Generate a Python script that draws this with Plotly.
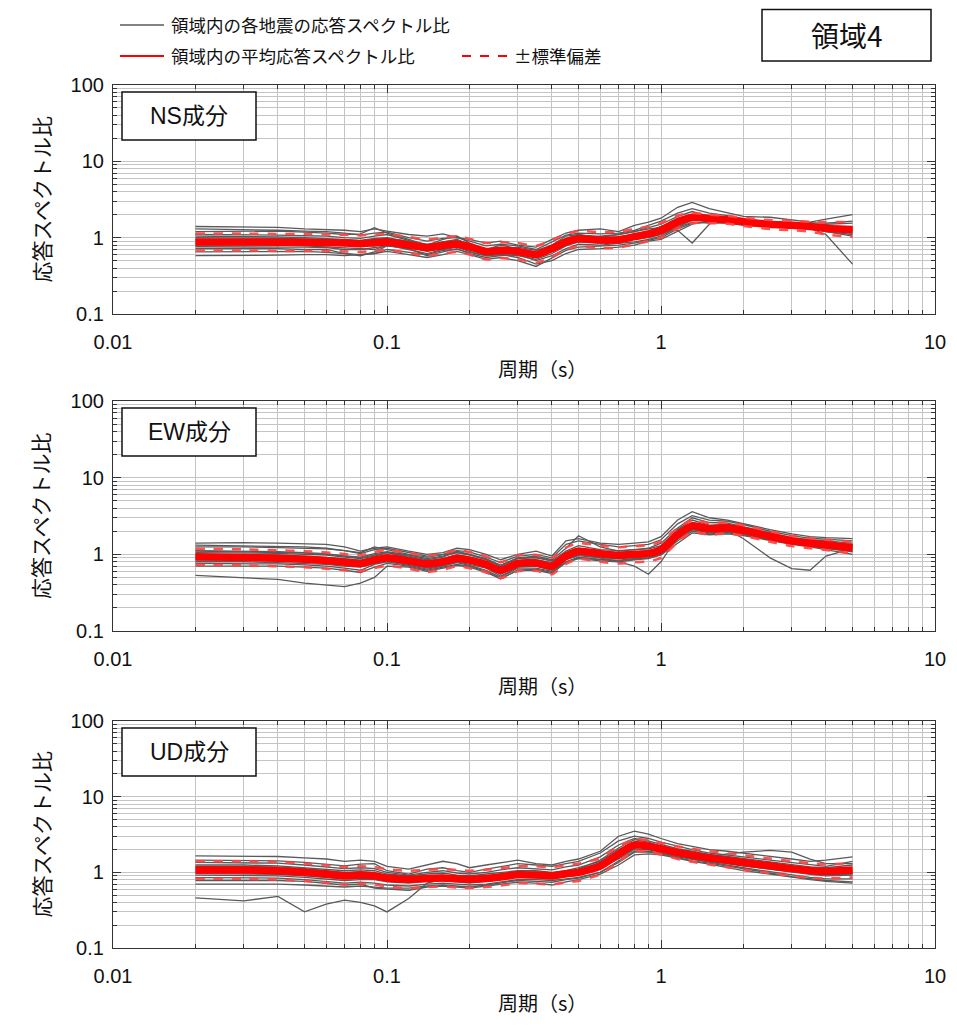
import plotly.graph_objects as go

# ---------------- data ----------------
periods = [0.02, 0.03, 0.04, 0.05, 0.06, 0.07, 0.08, 0.09, 0.1, 0.12, 0.14, 0.16, 0.18, 0.2,
           0.23, 0.26, 0.3, 0.35, 0.4, 0.45, 0.5, 0.6, 0.7, 0.8, 0.9, 1.0, 1.15, 1.3, 1.5,
           1.75, 2.0, 2.5, 3.0, 3.5, 4.0, 5.0]

ns_mean = [0.88, 0.88, 0.87, 0.87, 0.86, 0.85, 0.83, 0.86, 0.88, 0.80, 0.74, 0.79, 0.82, 0.76,
           0.66, 0.68, 0.66, 0.60, 0.72, 0.88, 0.97, 0.93, 0.94, 1.03, 1.12, 1.25, 1.60, 1.85,
           1.78, 1.72, 1.62, 1.50, 1.45, 1.40, 1.33, 1.27]
ns_upper = [1.13, 1.13, 1.12, 1.12, 1.10, 1.09, 1.07, 1.10, 1.12, 1.02, 0.95, 1.00, 1.04, 0.97,
            0.85, 0.87, 0.85, 0.78, 0.93, 1.12, 1.22, 1.18, 1.20, 1.30, 1.40, 1.55, 1.95, 2.10,
            2.00, 1.92, 1.82, 1.70, 1.66, 1.62, 1.60, 1.60]
ns_lower = [0.68, 0.68, 0.67, 0.67, 0.67, 0.66, 0.65, 0.67, 0.69, 0.63, 0.58, 0.62, 0.65, 0.60,
            0.52, 0.54, 0.52, 0.47, 0.56, 0.70, 0.77, 0.73, 0.74, 0.82, 0.90, 1.00, 1.32, 1.55,
            1.55, 1.52, 1.42, 1.30, 1.25, 1.20, 1.10, 1.02]
ns_quakes = [
    [1.40, 1.38, 1.36, 1.30, 1.28, 1.25, 1.20, 1.30, 1.22, 1.10, 1.05, 1.12, 1.00, 0.95, 0.85, 0.90, 0.80, 0.75, 0.95, 1.15, 1.25, 1.30, 1.20, 1.45, 1.60, 1.80, 2.50, 2.90, 2.40, 2.10, 1.90, 1.85, 1.70, 1.60, 1.75, 2.00],
    [1.20, 1.20, 1.22, 1.18, 1.15, 1.10, 1.12, 1.35, 1.15, 0.95, 0.80, 0.95, 1.05, 0.85, 0.70, 0.80, 0.72, 0.62, 0.80, 1.05, 1.10, 1.00, 1.10, 1.20, 1.35, 1.50, 1.90, 2.20, 1.90, 1.80, 1.70, 1.55, 1.50, 1.45, 1.50, 1.55],
    [1.05, 1.04, 1.02, 1.00, 0.98, 0.95, 0.92, 0.98, 1.00, 0.88, 0.80, 0.88, 0.92, 0.80, 0.68, 0.74, 0.70, 0.62, 0.70, 0.85, 1.00, 0.95, 0.98, 1.05, 1.10, 1.30, 1.70, 2.00, 1.85, 1.75, 1.65, 1.50, 1.48, 1.42, 1.35, 1.30],
    [0.95, 0.95, 0.94, 0.92, 0.90, 0.92, 0.86, 0.84, 0.92, 0.85, 0.70, 0.82, 0.88, 0.74, 0.62, 0.70, 0.64, 0.55, 0.72, 0.92, 1.05, 0.90, 0.88, 1.00, 1.20, 1.40, 1.65, 1.75, 1.70, 1.75, 1.60, 1.52, 1.45, 1.38, 1.30, 1.25],
    [0.88, 0.88, 0.87, 0.85, 0.85, 0.80, 0.78, 0.82, 0.85, 0.78, 0.72, 0.76, 0.78, 0.72, 0.60, 0.64, 0.62, 0.58, 0.66, 0.80, 0.90, 0.92, 0.96, 1.00, 1.05, 1.15, 1.50, 1.80, 1.75, 1.65, 1.55, 1.45, 1.42, 1.40, 1.30, 1.20],
    [0.80, 0.80, 0.80, 0.78, 0.76, 0.75, 0.72, 0.70, 0.80, 0.70, 0.62, 0.70, 0.75, 0.66, 0.58, 0.60, 0.58, 0.52, 0.62, 0.78, 0.88, 0.85, 0.90, 0.95, 1.00, 1.10, 1.40, 1.70, 1.65, 1.60, 1.50, 1.42, 1.38, 1.35, 1.25, 1.15],
    [0.72, 0.72, 0.72, 0.70, 0.70, 0.62, 0.58, 0.65, 0.78, 0.72, 0.58, 0.65, 0.72, 0.62, 0.55, 0.58, 0.60, 0.50, 0.58, 0.72, 0.82, 0.80, 0.85, 0.88, 0.95, 1.05, 1.35, 1.60, 1.55, 1.55, 1.45, 1.38, 1.32, 1.30, 1.20, 1.10],
    [0.65, 0.65, 0.66, 0.66, 0.64, 0.62, 0.60, 0.62, 0.66, 0.60, 0.55, 0.60, 0.66, 0.60, 0.52, 0.55, 0.50, 0.42, 0.55, 0.68, 0.75, 0.78, 0.80, 0.85, 0.92, 1.00, 1.30, 1.55, 1.60, 1.60, 1.50, 1.40, 1.35, 1.30, 1.20, 1.05],
    [0.58, 0.58, 0.59, 0.60, 0.60, 0.58, 0.60, 0.62, 0.70, 0.65, 0.60, 0.68, 0.70, 0.64, 0.58, 0.60, 0.55, 0.45, 0.50, 0.62, 0.70, 0.72, 0.75, 0.80, 0.90, 0.95, 1.20, 1.50, 1.65, 1.70, 1.55, 1.45, 1.40, 1.32, 1.10, 0.45],
    [1.10, 1.10, 1.08, 1.06, 1.05, 1.00, 0.98, 1.05, 1.10, 0.92, 0.76, 0.88, 0.95, 0.82, 0.70, 0.75, 0.72, 0.65, 0.78, 0.95, 1.05, 1.05, 1.10, 1.20, 1.30, 1.35, 1.25, 0.85, 1.50, 1.90, 1.70, 1.55, 1.50, 1.45, 1.42, 1.40],
    [1.00, 1.00, 0.98, 0.96, 0.95, 0.90, 0.88, 0.95, 0.98, 0.90, 0.82, 0.85, 0.90, 0.80, 0.72, 0.70, 0.75, 0.68, 0.80, 0.98, 1.08, 1.02, 1.00, 1.10, 1.22, 1.40, 1.80, 2.00, 1.95, 1.80, 1.70, 1.58, 1.52, 1.50, 1.40, 1.35],
    [0.92, 0.92, 0.90, 0.90, 0.88, 0.90, 0.82, 0.88, 0.95, 0.82, 0.76, 0.80, 0.85, 0.78, 0.68, 0.72, 0.70, 0.62, 0.75, 0.90, 1.00, 0.98, 0.95, 1.08, 1.15, 1.25, 1.65, 1.95, 1.85, 1.70, 1.62, 1.52, 1.48, 1.42, 1.38, 1.30],
    [0.84, 0.84, 0.82, 0.82, 0.80, 0.82, 0.80, 0.78, 0.82, 0.75, 0.68, 0.75, 0.80, 0.75, 0.65, 0.66, 0.62, 0.58, 0.70, 0.85, 0.95, 0.88, 0.92, 1.00, 1.10, 1.20, 1.55, 1.90, 1.80, 1.72, 1.60, 1.48, 1.42, 1.38, 1.35, 1.25],
    [0.76, 0.76, 0.76, 0.75, 0.74, 0.70, 0.70, 0.75, 0.78, 0.76, 0.66, 0.72, 0.76, 0.70, 0.62, 0.62, 0.62, 0.55, 0.66, 0.82, 0.92, 0.86, 0.88, 0.98, 1.02, 1.12, 1.45, 1.75, 1.70, 1.65, 1.58, 1.45, 1.40, 1.36, 1.28, 1.18],
    [1.30, 1.28, 1.25, 1.22, 1.20, 1.15, 1.08, 1.15, 1.18, 1.00, 0.90, 0.98, 1.00, 0.90, 0.78, 0.82, 0.78, 0.70, 0.88, 1.08, 1.15, 1.12, 1.15, 1.25, 1.45, 1.65, 2.10, 2.40, 2.10, 1.95, 1.75, 1.62, 1.58, 1.55, 1.55, 1.65],
]

ew_mean = [0.93, 0.91, 0.89, 0.86, 0.83, 0.79, 0.76, 0.84, 0.90, 0.82, 0.75, 0.80, 0.89, 0.84,
           0.74, 0.62, 0.76, 0.77, 0.70, 0.95, 1.10, 1.02, 0.97, 1.00, 1.03, 1.15, 1.80, 2.35,
           2.15, 2.22, 2.05, 1.72, 1.50, 1.40, 1.33, 1.22]
ew_upper = [1.18, 1.16, 1.13, 1.10, 1.06, 1.01, 0.97, 1.07, 1.14, 1.04, 0.96, 1.02, 1.13, 1.07,
            0.94, 0.79, 0.97, 0.98, 0.90, 1.22, 1.40, 1.30, 1.24, 1.28, 1.32, 1.47, 2.20, 2.80,
            2.55, 2.60, 2.40, 2.00, 1.75, 1.62, 1.55, 1.45]
ew_lower = [0.73, 0.72, 0.70, 0.68, 0.65, 0.62, 0.60, 0.66, 0.71, 0.65, 0.59, 0.63, 0.70, 0.66,
            0.58, 0.49, 0.60, 0.61, 0.55, 0.75, 0.87, 0.80, 0.76, 0.79, 0.81, 0.90, 1.45, 1.95,
            1.80, 1.88, 1.74, 1.46, 1.28, 1.20, 1.14, 1.02]
ew_quakes = [
    [1.40, 1.42, 1.40, 1.38, 1.35, 1.25, 1.10, 1.20, 1.25, 1.10, 1.00, 1.05, 1.20, 1.15, 1.00, 0.85, 1.00, 1.10, 0.95, 1.50, 1.60, 1.40, 1.35, 1.40, 1.45, 1.70, 2.80, 3.60, 3.00, 2.80, 2.50, 2.10, 1.85, 1.70, 1.65, 1.60],
    [1.25, 1.25, 1.22, 1.20, 1.18, 1.12, 1.05, 1.25, 1.15, 1.00, 0.92, 0.98, 1.05, 1.00, 0.88, 0.72, 0.90, 0.95, 0.85, 1.20, 1.75, 1.25, 1.10, 1.15, 1.20, 1.40, 2.20, 3.00, 2.60, 2.55, 2.30, 1.90, 1.65, 1.55, 1.50, 1.40],
    [1.05, 1.05, 1.03, 1.00, 0.98, 0.92, 0.88, 0.95, 1.05, 0.92, 0.82, 0.88, 0.98, 0.92, 0.80, 0.68, 0.82, 0.85, 0.78, 1.05, 1.20, 1.10, 1.05, 1.08, 1.10, 1.25, 1.95, 2.60, 2.30, 2.40, 2.20, 1.80, 1.55, 1.45, 1.40, 1.30],
    [0.98, 0.97, 0.95, 0.92, 0.90, 0.85, 0.80, 0.90, 0.98, 0.85, 0.78, 0.84, 0.92, 0.86, 0.75, 0.62, 0.78, 0.78, 0.72, 0.95, 1.10, 1.05, 1.00, 1.02, 1.05, 1.20, 1.85, 2.40, 2.20, 2.25, 2.10, 1.75, 1.50, 1.42, 1.35, 1.25],
    [0.90, 0.90, 0.88, 0.86, 0.82, 0.78, 0.75, 0.82, 0.88, 0.80, 0.72, 0.78, 0.86, 0.82, 0.72, 0.58, 0.74, 0.74, 0.68, 0.92, 1.05, 0.98, 0.95, 0.98, 1.00, 1.10, 1.70, 2.20, 2.05, 2.10, 2.00, 1.70, 1.48, 1.38, 1.30, 1.20],
    [0.84, 0.84, 0.82, 0.80, 0.76, 0.72, 0.70, 0.78, 0.84, 0.76, 0.68, 0.74, 0.82, 0.78, 0.68, 0.55, 0.70, 0.70, 0.64, 0.85, 0.98, 0.92, 0.90, 0.92, 0.95, 1.05, 1.60, 2.10, 1.95, 2.00, 1.90, 1.62, 1.42, 1.32, 1.25, 1.15],
    [0.76, 0.76, 0.75, 0.73, 0.70, 0.66, 0.62, 0.74, 0.80, 0.72, 0.64, 0.70, 0.78, 0.72, 0.62, 0.50, 0.66, 0.66, 0.60, 0.80, 0.92, 0.86, 0.84, 0.88, 0.90, 1.00, 1.50, 2.00, 1.85, 1.90, 1.80, 1.55, 1.38, 1.28, 1.20, 1.08],
    [0.70, 0.70, 0.70, 0.68, 0.66, 0.62, 0.58, 0.68, 0.76, 0.70, 0.62, 0.68, 0.74, 0.70, 0.60, 0.48, 0.62, 0.64, 0.58, 0.78, 0.88, 0.82, 0.80, 0.85, 0.88, 0.98, 1.40, 1.90, 1.80, 1.85, 1.75, 1.50, 1.35, 1.25, 1.15, 1.00],
    [0.53, 0.50, 0.47, 0.42, 0.40, 0.38, 0.42, 0.50, 0.70, 0.68, 0.60, 0.66, 0.72, 0.68, 0.58, 0.48, 0.62, 0.62, 0.56, 0.80, 0.90, 0.85, 0.82, 0.86, 0.90, 1.00, 1.60, 2.10, 1.90, 1.95, 1.85, 1.55, 1.40, 1.30, 1.20, 1.10],
    [1.12, 1.10, 1.08, 1.05, 1.02, 0.95, 0.90, 0.98, 1.05, 0.95, 0.85, 0.92, 1.10, 1.00, 0.85, 0.70, 0.88, 0.90, 0.82, 1.00, 1.05, 0.90, 0.80, 0.70, 0.55, 0.80, 1.70, 2.50, 2.30, 2.30, 2.10, 1.75, 1.50, 1.45, 1.40, 1.30],
    [1.00, 1.00, 0.98, 0.95, 0.92, 0.88, 0.84, 0.92, 0.95, 0.88, 0.80, 0.86, 0.95, 0.90, 0.78, 0.65, 0.80, 0.82, 0.75, 0.98, 1.15, 1.05, 1.00, 1.02, 1.05, 1.15, 1.90, 2.50, 2.20, 2.10, 1.60, 0.90, 0.65, 0.62, 0.95, 1.20],
    [1.10, 1.08, 1.06, 1.04, 1.00, 0.96, 0.92, 1.02, 1.08, 0.98, 0.88, 0.95, 1.05, 0.98, 0.85, 0.72, 0.90, 0.92, 0.82, 1.10, 1.30, 1.15, 1.12, 1.15, 1.18, 1.30, 2.10, 2.80, 2.40, 2.45, 2.25, 1.85, 1.60, 1.50, 1.45, 1.35],
    [0.94, 0.93, 0.92, 0.90, 0.86, 0.82, 0.80, 0.86, 0.92, 0.84, 0.76, 0.80, 0.90, 0.86, 0.76, 0.64, 0.78, 0.80, 0.72, 0.98, 1.12, 1.02, 0.98, 1.00, 1.05, 1.12, 1.80, 2.30, 2.10, 2.20, 2.05, 1.72, 1.50, 1.40, 1.35, 1.25],
    [0.88, 0.87, 0.86, 0.84, 0.80, 0.76, 0.74, 0.82, 0.86, 0.78, 0.70, 0.76, 0.84, 0.80, 0.70, 0.58, 0.72, 0.74, 0.66, 0.90, 1.02, 0.95, 0.92, 0.95, 0.98, 1.08, 1.70, 2.25, 2.10, 2.15, 1.98, 1.66, 1.45, 1.36, 1.28, 1.18],
    [0.80, 0.80, 0.78, 0.76, 0.74, 0.70, 0.68, 0.76, 0.82, 0.74, 0.66, 0.72, 0.80, 0.74, 0.66, 0.52, 0.68, 0.70, 0.62, 0.85, 0.96, 0.90, 0.88, 0.90, 0.94, 1.02, 1.60, 2.15, 2.00, 2.05, 1.92, 1.60, 1.40, 1.32, 1.22, 1.10],
    [1.32, 1.30, 1.28, 1.25, 1.20, 1.12, 1.02, 1.15, 1.20, 1.05, 0.95, 1.00, 1.12, 1.08, 0.92, 0.78, 0.95, 1.00, 0.90, 1.35, 1.50, 1.35, 1.25, 1.30, 1.35, 1.55, 2.50, 3.20, 2.80, 2.70, 2.45, 2.00, 1.75, 1.62, 1.58, 1.50],
]

ud_mean = [1.07, 1.07, 1.05, 1.00, 0.95, 0.90, 0.92, 0.90, 0.84, 0.81, 0.83, 0.84, 0.82, 0.81,
           0.83, 0.87, 0.93, 0.92, 0.90, 0.96, 1.00, 1.21, 1.75, 2.30, 2.22, 2.05, 1.82, 1.68,
           1.55, 1.44, 1.35, 1.22, 1.12, 1.06, 1.03, 1.07]
ud_upper = [1.40, 1.40, 1.37, 1.30, 1.24, 1.17, 1.20, 1.17, 1.10, 1.05, 1.08, 1.10, 1.07, 1.05,
            1.08, 1.13, 1.20, 1.20, 1.17, 1.25, 1.30, 1.55, 2.20, 2.75, 2.65, 2.45, 2.20, 2.05,
            1.90, 1.78, 1.68, 1.52, 1.40, 1.32, 1.28, 1.32]
ud_lower = [0.82, 0.82, 0.80, 0.77, 0.73, 0.69, 0.71, 0.69, 0.65, 0.62, 0.64, 0.65, 0.63, 0.62,
            0.64, 0.67, 0.72, 0.71, 0.69, 0.74, 0.77, 0.94, 1.38, 1.92, 1.86, 1.72, 1.50, 1.38,
            1.27, 1.17, 1.08, 0.98, 0.90, 0.85, 0.83, 0.86]
ud_quakes = [
    [1.65, 1.65, 1.62, 1.55, 1.50, 1.40, 1.45, 1.40, 1.20, 1.10, 1.25, 1.40, 1.30, 1.15, 1.25, 1.35, 1.45, 1.30, 1.25, 1.40, 1.50, 1.90, 3.00, 3.50, 3.20, 2.80, 2.40, 2.20, 2.00, 1.90, 1.80, 1.65, 1.50, 1.40, 1.45, 1.60],
    [1.45, 1.45, 1.42, 1.35, 1.28, 1.22, 1.28, 1.30, 1.05, 0.95, 1.10, 1.15, 1.05, 1.00, 1.10, 1.20, 1.30, 1.25, 1.20, 1.30, 1.40, 1.80, 2.60, 3.00, 2.80, 2.50, 2.20, 2.00, 1.80, 1.70, 1.60, 1.45, 1.35, 1.25, 1.20, 1.40],
    [1.25, 1.25, 1.22, 1.15, 1.10, 1.05, 1.08, 1.05, 0.95, 0.90, 0.95, 0.98, 0.92, 0.90, 0.95, 1.00, 1.05, 1.05, 1.00, 1.05, 1.15, 1.40, 2.00, 2.50, 2.40, 2.20, 1.95, 1.80, 1.65, 1.55, 1.45, 1.30, 1.20, 1.12, 1.10, 1.15],
    [1.10, 1.10, 1.08, 1.04, 1.00, 0.95, 0.98, 0.95, 0.88, 0.82, 0.86, 0.90, 0.85, 0.84, 0.88, 0.92, 1.00, 0.95, 0.92, 1.00, 1.05, 1.30, 1.80, 2.40, 2.30, 2.10, 1.85, 1.70, 1.58, 1.45, 1.35, 1.22, 1.12, 1.06, 1.02, 1.05],
    [1.00, 1.00, 0.98, 0.94, 0.90, 0.85, 0.88, 0.86, 0.80, 0.78, 0.80, 0.82, 0.78, 0.78, 0.80, 0.86, 0.92, 0.90, 0.88, 0.92, 0.98, 1.20, 1.65, 2.20, 2.15, 2.00, 1.75, 1.62, 1.50, 1.40, 1.30, 1.18, 1.08, 1.00, 0.96, 1.00],
    [0.92, 0.92, 0.90, 0.86, 0.82, 0.78, 0.80, 0.80, 0.75, 0.72, 0.76, 0.78, 0.75, 0.72, 0.76, 0.80, 0.88, 0.85, 0.82, 0.88, 0.92, 1.10, 1.55, 2.05, 2.00, 1.90, 1.68, 1.55, 1.42, 1.32, 1.22, 1.10, 1.00, 0.94, 0.90, 0.92],
    [0.85, 0.85, 0.84, 0.80, 0.76, 0.72, 0.74, 0.72, 0.68, 0.66, 0.70, 0.72, 0.70, 0.68, 0.70, 0.75, 0.80, 0.80, 0.78, 0.82, 0.86, 1.00, 1.40, 1.90, 1.90, 1.80, 1.60, 1.48, 1.35, 1.25, 1.15, 1.02, 0.92, 0.86, 0.82, 0.82],
    [0.78, 0.78, 0.78, 0.76, 0.72, 0.68, 0.70, 0.62, 0.60, 0.58, 0.64, 0.66, 0.64, 0.62, 0.66, 0.70, 0.74, 0.72, 0.68, 0.75, 0.80, 0.95, 1.25, 1.70, 1.75, 1.70, 1.52, 1.40, 1.28, 1.15, 1.05, 0.95, 0.86, 0.80, 0.76, 0.72],
    [0.46, 0.42, 0.48, 0.30, 0.38, 0.43, 0.40, 0.36, 0.30, 0.45, 0.72, 0.80, 0.78, 0.75, 0.78, 0.82, 0.88, 0.86, 0.84, 0.90, 0.95, 1.15, 1.50, 2.00, 2.00, 1.85, 1.65, 1.50, 1.40, 1.30, 1.20, 1.10, 1.02, 0.96, 0.92, 0.95],
    [1.20, 1.20, 1.18, 1.12, 1.05, 1.00, 1.02, 0.98, 0.90, 0.86, 0.90, 0.92, 0.88, 0.86, 0.90, 0.95, 1.02, 1.00, 0.96, 1.02, 1.10, 1.45, 2.10, 2.70, 2.50, 2.20, 1.90, 1.75, 1.62, 1.75, 1.85, 1.95, 1.85, 1.50, 1.30, 1.30],
    [1.35, 1.35, 1.32, 1.25, 1.18, 1.12, 1.15, 1.12, 1.00, 0.92, 1.00, 1.05, 0.98, 0.95, 1.00, 1.08, 1.15, 1.12, 1.08, 1.18, 1.25, 1.60, 2.30, 2.80, 2.60, 2.35, 2.05, 1.90, 1.72, 1.62, 1.52, 1.38, 1.28, 1.18, 1.15, 1.25],
    [1.15, 1.15, 1.12, 1.08, 1.02, 0.98, 1.00, 0.96, 0.90, 0.85, 0.88, 0.90, 0.86, 0.86, 0.88, 0.94, 1.00, 0.98, 0.95, 1.00, 1.08, 1.35, 1.90, 2.45, 2.35, 2.15, 1.88, 1.72, 1.60, 1.48, 1.38, 1.25, 1.15, 1.08, 1.05, 1.10],
    [1.04, 1.04, 1.02, 0.98, 0.94, 0.90, 0.92, 0.90, 0.84, 0.80, 0.84, 0.86, 0.82, 0.80, 0.84, 0.88, 0.95, 0.92, 0.90, 0.96, 1.02, 1.25, 1.75, 2.30, 2.25, 2.05, 1.80, 1.65, 1.52, 1.42, 1.32, 1.20, 1.10, 1.02, 0.98, 1.02],
    [0.96, 0.96, 0.94, 0.90, 0.86, 0.82, 0.84, 0.82, 0.78, 0.75, 0.78, 0.80, 0.76, 0.75, 0.78, 0.82, 0.90, 0.88, 0.85, 0.90, 0.95, 1.15, 1.60, 2.15, 2.10, 1.95, 1.72, 1.58, 1.45, 1.35, 1.25, 1.14, 1.04, 0.97, 0.94, 0.96],
    [0.70, 0.70, 0.70, 0.68, 0.66, 0.64, 0.66, 0.64, 0.62, 0.62, 0.66, 0.68, 0.66, 0.64, 0.68, 0.72, 0.78, 0.76, 0.74, 0.80, 0.84, 1.00, 1.35, 1.85, 1.85, 1.75, 1.55, 1.42, 1.32, 1.20, 1.10, 0.98, 0.88, 0.82, 0.78, 0.75],
]

panel_names = ["NS成分", "EW成分", "UD成分"]
x_tick_vals = [0.01, 0.1, 1, 10]
x_tick_text = ["0.01", "0.1", "1", "10"]
y_tick_vals = [0.1, 1, 10, 100]
y_tick_text = ["0.1", "1", "10", "100"]
legend_texts = ["領域内の各地震の応答スペクトル比", "領域内の平均応答スペクトル比", "±標準偏差"]
region_title = "領域4"
x_title = "周期（s）"
y_title = "応答スペクトル比"

# ---------------- layout helpers ----------------
# the page body has an 8 px margin, so the figure is drawn 8 px in from the window edge
OFF = 8
W, H = 957 - 2 * OFF, 1031 - 2 * OFF
# plot-area edges in window pixels
PL, PR, PT, PB = 113, 935, 85, 948
ML, MR, MT, MB = PL - OFF, W - (PR - OFF), PT - OFF, H - (PB - OFF)
PW, PH = PR - PL, PB - PT
panel_px = [(85, 314), (401, 631), (721, 948)]


def px(x):
    return (x - PL) / PW


def py(y):
    return 1 - (y - PT) / PH


x_minor = [k * 10.0 ** e for e in (-2, -1, 0) for k in range(2, 10)]
y_minor = [k * 10.0 ** e for e in (-1, 0, 1) for k in range(2, 10)]

GRID = "#c4c4c4"
AX = "#333333"
NUMFONT = "Liberation Sans, Arial, Noto Sans CJK JP"
JPFONT = "Noto Sans CJK JP, Liberation Sans"

fig = go.Figure()
datasets = [
    (ns_quakes, ns_mean, ns_upper, ns_lower),
    (ew_quakes, ew_mean, ew_upper, ew_lower),
    (ud_quakes, ud_mean, ud_upper, ud_lower),
]

shapes = []
annotations = []
for i, (quakes, mean, upper, lower) in enumerate(datasets):
    xa = "x" if i == 0 else f"x{i+1}"
    ya = "y" if i == 0 else f"y{i+1}"
    for q in quakes:
        fig.add_trace(go.Scatter(x=periods, y=q, mode="lines", xaxis=xa, yaxis=ya,
                                 line=dict(color="#5a5a5a", width=1.3), showlegend=False,
                                 hoverinfo="skip"))
    fig.add_trace(go.Scatter(x=periods, y=mean, mode="lines", xaxis=xa, yaxis=ya,
                             line=dict(color="#ff0000", width=7.5, shape="spline", smoothing=0.6),
                             showlegend=False))
    for band in (upper, lower):
        fig.add_trace(go.Scatter(x=periods, y=band, mode="lines", xaxis=xa, yaxis=ya,
                                 line=dict(color="rgba(255,70,70,0.95)", width=2.5, dash="dash",
                                           shape="spline", smoothing=0.6),
                                 showlegend=False))

    top, bot = panel_px[i]
    axkey = "" if i == 0 else str(i + 1)
    fig.update_layout(**{
        f"xaxis{axkey}": dict(
            type="log", range=[-2, 1], domain=[0, 1], anchor=ya, automargin=False,
            tickmode="array", tickvals=x_tick_vals, ticktext=x_tick_text,
            ticks="inside", ticklen=8, tickcolor=AX, tickwidth=1,
            showgrid=True, gridcolor=GRID, gridwidth=1,
            showline=True, linecolor=AX, linewidth=1.2, mirror="ticks",
            tickfont=dict(family=NUMFONT, size=20, color="#111"),
            ticklabelstandoff=10, zeroline=False,
            minor=dict(tickmode="array", tickvals=x_minor, ticks="inside", ticklen=4,
                       tickcolor=AX, showgrid=True, gridcolor=GRID, gridwidth=1),
        ),
        f"yaxis{axkey}": dict(
            type="log", range=[-1, 2], domain=[py(bot), py(top)], anchor=xa, automargin=False,
            tickmode="array", tickvals=y_tick_vals, ticktext=y_tick_text,
            ticks="inside", ticklen=8, tickcolor=AX, tickwidth=1,
            showgrid=True, gridcolor=GRID, gridwidth=1,
            showline=True, linecolor=AX, linewidth=1.2, mirror="ticks",
            tickfont=dict(family=NUMFONT, size=20, color="#111"),
            ticklabelstandoff=4, zeroline=False,
            minor=dict(tickmode="array", tickvals=y_minor, ticks="inside", ticklen=4,
                       tickcolor=AX, showgrid=True, gridcolor=GRID, gridwidth=1),
        ),
    })

    # inset label box
    bx0, bx1 = 122, 256
    by0, by1 = top + 7, top + 55
    shapes.append(dict(type="rect", xref="paper", yref="paper",
                       x0=px(bx0), x1=px(bx1), y0=py(by1), y1=py(by0),
                       line=dict(color="#111", width=1.5), fillcolor="white", layer="above"))
    annotations.append(dict(text=panel_names[i], xref="paper", yref="paper",
                            x=px((bx0 + bx1) / 2), y=py((by0 + by1) / 2),
                            xanchor="center", yanchor="middle", showarrow=False,
                            font=dict(family=NUMFONT, size=23, color="#111")))
    # axis titles
    annotations.append(dict(text=x_title, xref="paper", yref="paper",
                            x=px(542), y=py(bot + 54), xanchor="center", yanchor="middle",
                            showarrow=False, font=dict(family=JPFONT, size=20, color="#111")))
    annotations.append(dict(text=y_title, xref="paper", yref="paper",
                            x=px(40), y=py((top + bot) / 2), xanchor="center", yanchor="middle",
                            textangle=-90, showarrow=False,
                            font=dict(family=JPFONT, size=21, color="#111")))

# legend (drawn manually)
shapes.append(dict(type="line", xref="paper", yref="paper", x0=px(120), x1=px(164),
                   y0=py(25), y1=py(25), line=dict(color="#5a5a5a", width=1.5)))
shapes.append(dict(type="line", xref="paper", yref="paper", x0=px(120), x1=px(164),
                   y0=py(56), y1=py(56), line=dict(color="#ff0000", width=2)))
shapes.append(dict(type="line", xref="paper", yref="paper", x0=px(462), x1=px(508),
                   y0=py(56), y1=py(56), line=dict(color="#ff0000", width=2, dash="dash")))
for txt, xx, yy in ((legend_texts[0], 169, 25), (legend_texts[1], 169, 56), (legend_texts[2], 512, 56)):
    annotations.append(dict(text=txt, xref="paper", yref="paper", x=px(xx), y=py(yy),
                            xanchor="left", yanchor="middle", showarrow=False,
                            font=dict(family=JPFONT, size=17.5, color="#111")))

# region box (top edge kept inside the figure area)
shapes.append(dict(type="rect", xref="paper", yref="paper", x0=px(762), x1=px(931),
                   y0=py(61), y1=py(9.5), line=dict(color="#111", width=1.5), fillcolor="white"))
annotations.append(dict(text=region_title, xref="paper", yref="paper", x=px(846.5), y=py(35),
                        xanchor="center", yanchor="middle", showarrow=False,
                        font=dict(family=JPFONT, size=28, color="#111")))

fig.update_layout(
    width=W, height=H,
    margin=dict(l=ML, r=MR, t=MT, b=MB, autoexpand=False),
    paper_bgcolor="white", plot_bgcolor="white",
    showlegend=False,
    shapes=shapes, annotations=annotations,
)

fig.write_html("out.html")
